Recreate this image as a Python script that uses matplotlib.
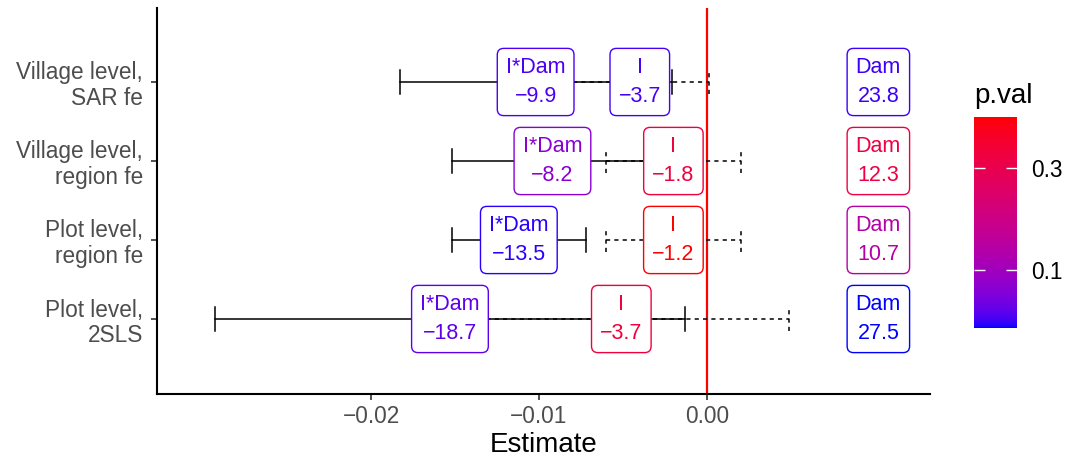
import numpy as np
import matplotlib
matplotlib.use("Agg")
import matplotlib.pyplot as plt
from matplotlib.colors import ListedColormap, LogNorm

plt.rcParams['font.family'] = ['Liberation Sans', 'DejaVu Sans']
plt.rcParams['lines.scale_dashes'] = False

# ---------------- data ----------------
models = ["Village level,\nSAR fe", "Village level,\nregion fe",
          "Plot level,\nregion fe", "Plot level,\n2SLS"]
idam_est = [-0.0102, -0.0092, -0.0112, -0.0153]
idam_lo = [-0.0183, -0.0152, -0.0152, -0.0293]
idam_hi = [-0.0021, -0.0032, -0.0072, -0.0013]
i_est = [-0.0040, -0.0020, -0.0020, -0.0051]
i_lo = [-0.0080, -0.0060, -0.0060, -0.0151]
i_hi = [0.0001, 0.0020, 0.0020, 0.0049]
idam_lab = [-9.9, -8.2, -13.5, -18.7]
i_lab = [-3.7, -1.8, -1.2, -3.7]
dam_lab = [23.8, 12.3, 10.7, 27.5]
idam_p = [0.061, 0.083, 0.056, 0.065]
i_p = [0.060, 0.344, 0.517, 0.352]
dam_p = [0.058, 0.330, 0.125, 0.054]
dam_x = 0.0102
xticks = [-0.02, -0.01, 0.00]
cbar_ticks = [0.1, 0.3]


# ---------------- colour ramp in CIELAB (blue -> red) ----------------
def srgb_to_lab(rgb):
    rgb = np.asarray(rgb, float)
    lin = np.where(rgb <= 0.04045, rgb / 12.92, ((rgb + 0.055) / 1.055) ** 2.4)
    M = np.array([[0.4124, 0.3576, 0.1805],
                  [0.2126, 0.7152, 0.0722],
                  [0.0193, 0.1192, 0.9505]])
    xyz = M @ lin
    wp = np.array([0.95047, 1.0, 1.08883])
    t = xyz / wp
    f = np.where(t > 0.008856, np.cbrt(t), 7.787 * t + 16 / 116)
    return np.array([116 * f[1] - 16, 500 * (f[0] - f[1]), 200 * (f[1] - f[2])])


def lab_to_srgb(lab):
    L, a, b = lab
    fy = (L + 16) / 116
    fx = fy + a / 500
    fz = fy - b / 200
    f = np.array([fx, fy, fz])
    t = np.where(f ** 3 > 0.008856, f ** 3, (f - 16 / 116) / 7.787)
    wp = np.array([0.95047, 1.0, 1.08883])
    xyz = t * wp
    Minv = np.array([[3.2406, -1.5372, -0.4986],
                     [-0.9689, 1.8758, 0.0415],
                     [0.0557, -0.2040, 1.0570]])
    lin = np.clip(Minv @ xyz, 0, 1)
    rgb = np.where(lin <= 0.0031308, 12.92 * lin, 1.055 * lin ** (1 / 2.4) - 0.055)
    return np.clip(rgb, 0, 1)


lab_lo = srgb_to_lab([0, 0, 1])
lab_hi = srgb_to_lab([1, 0, 0])
cols = [lab_to_srgb(lab_lo + (lab_hi - lab_lo) * s) for s in np.linspace(0, 1, 256)]
cmap = ListedColormap(cols)

all_p = idam_p + i_p + dam_p
norm = LogNorm(vmin=min(all_p), vmax=max(all_p))

# ---------------- figure ----------------
fig = plt.figure(figsize=(10.69, 4.68), dpi=100)
ax = fig.add_axes([157 / 1069, 74 / 468, 773 / 1069, 386 / 468])

n = len(models)
ypos = np.arange(n, 0, -1)  # top row first
cap = 0.15
lw = 1.1

ax.axvline(0, color='red', lw=1.6, zorder=1)

for k in range(n):
    y = ypos[k]
    # I*Dam (solid)
    ax.plot([idam_lo[k], idam_hi[k]], [y, y], color='black', lw=lw, zorder=2)
    ax.plot([idam_lo[k], idam_lo[k]], [y - cap, y + cap], color='black', lw=lw, zorder=2)
    ax.plot([idam_hi[k], idam_hi[k]], [y - cap, y + cap], color='black', lw=lw, zorder=2)
    # I (dashed)
    ls = (0, (3, 3))
    ax.plot([i_lo[k], i_hi[k]], [y, y], color='black', lw=lw, ls=ls, zorder=2)
    ax.plot([i_lo[k], i_lo[k]], [y - cap, y + cap], color='black', lw=lw, ls=ls, zorder=2)
    ax.plot([i_hi[k], i_hi[k]], [y - cap, y + cap], color='black', lw=lw, ls=ls, zorder=2)


def fmt(v):
    return f"{v:.1f}".replace("-", "\u2212")


def label(x, y, name, val, p):
    c = cmap(norm(p))
    ax.text(x, y, f"{name}\n{fmt(val)}", ha='center', va='center', color=c,
            fontsize=15.5, linespacing=1.5, zorder=5,
            bbox=dict(boxstyle='round,pad=0.4,rounding_size=0.3',
                      fc='white', ec=c, lw=1.0))


for k in range(n):
    y = ypos[k]
    label(idam_est[k], y, "I*Dam", idam_lab[k], idam_p[k])
    label(i_est[k], y, "I", i_lab[k], i_p[k])
    label(dam_x, y, "Dam", dam_lab[k], dam_p[k])

ax.set_xlim((157 - 707) / 16800, (930 - 707) / 16800)
ax.set_ylim(1 - 75 / 79, 4 + 74 / 79)
ax.set_xticks(xticks)
ax.set_xticklabels([f"{t:.2f}".replace("-", "\u2212") for t in xticks])
ax.set_yticks(ypos)
ax.set_yticklabels(models, multialignment='right', linespacing=1.12)
for s in ['top', 'right']:
    ax.spines[s].set_visible(False)
for s in ['left', 'bottom']:
    ax.spines[s].set_linewidth(1.5)
    ax.spines[s].set_color('black')
ax.tick_params(axis='both', length=4, width=1.2, color='#333333',
               labelcolor='#4D4D4D', labelsize=16.3, pad=4)
ax.tick_params(axis='y', pad=6)
ax.set_xlabel("Estimate", fontsize=20, labelpad=3)

# ---------------- colour bar ----------------
cax = fig.add_axes([974 / 1069, 140 / 468, 43 / 1069, 211 / 468])
sm = matplotlib.cm.ScalarMappable(norm=norm, cmap=cmap)
cb = fig.colorbar(sm, cax=cax)
cb.outline.set_visible(False)
cb.set_ticks(cbar_ticks)
cb.set_ticklabels([f"{t:.1f}" for t in cbar_ticks])
cax.yaxis.set_minor_locator(matplotlib.ticker.NullLocator())
cax.tick_params(axis='y', direction='in', length=8, width=1, color='white',
                left=True, right=True, labelleft=False, labelright=True,
                labelsize=16.3, labelcolor='black', pad=10)
cax.text(0, 1.04, "p.val", transform=cax.transAxes, fontsize=20,
         ha='left', va='bottom')

fig.savefig("out.png", dpi=100)
